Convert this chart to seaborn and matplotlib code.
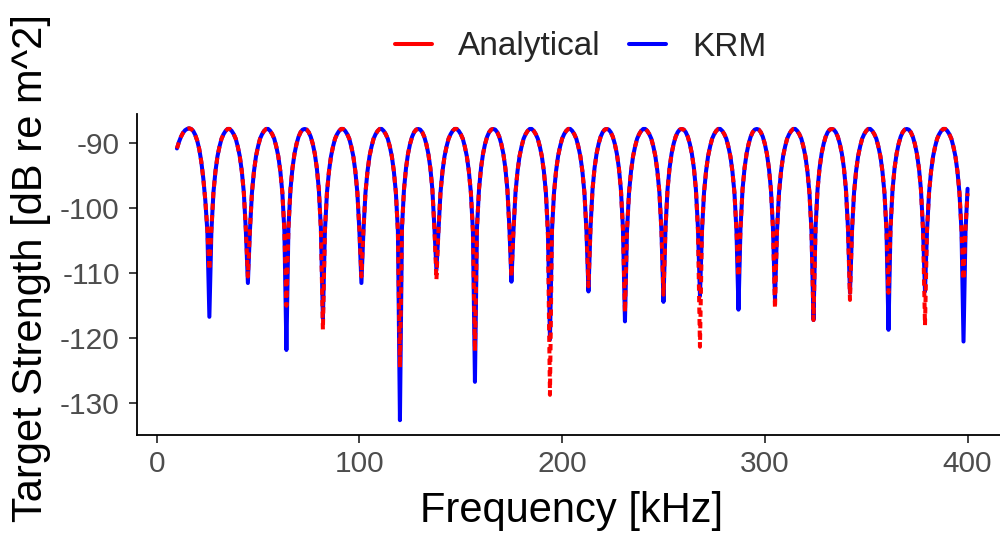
import numpy as np
import pandas as pd
import seaborn as sns
import matplotlib
matplotlib.use("Agg")
import matplotlib.pyplot as plt
from matplotlib.lines import Line2D

# Frequency grid (kHz)
freq_khz = np.arange(10, 401, 1)

# Target strength, KRM model (dB re m^2), one row per lobe ending at its null
ts_krm = [
    # 10-26
    -90.8, -89.8, -89.0, -88.4, -88.0, -87.8, -87.7, -87.8, -88.1, -88.7, -89.6, -90.9, -92.8, -95.4, -98.8, -103.5, -116.7,
    # 27-45
    -103.5, -97.6, -94.3, -92.0, -90.5, -89.3, -88.6, -88.1, -87.8, -87.8, -88.1, -88.6, -89.3, -90.5, -92.0, -94.3, -97.6, -103.5, -111.5,
    # 46-64
    -103.5, -97.6, -94.3, -92.0, -90.5, -89.3, -88.6, -88.1, -87.8, -87.8, -88.1, -88.6, -89.3, -90.5, -92.0, -94.3, -97.6, -103.5, -121.8,
    # 65-82
    -103.0, -97.1, -93.8, -91.6, -90.1, -89.0, -88.3, -87.9, -87.8, -87.9, -88.3, -89.0, -90.1, -91.6, -93.8, -97.1, -103.0, -117.0,
    # 83-101
    -103.5, -97.6, -94.3, -92.0, -90.5, -89.3, -88.6, -88.1, -87.8, -87.8, -88.1, -88.6, -89.3, -90.5, -92.0, -94.3, -97.6, -103.5, -111.5,
    # 102-120
    -103.5, -97.6, -94.3, -92.0, -90.5, -89.3, -88.6, -88.1, -87.8, -87.8, -88.1, -88.6, -89.3, -90.5, -92.0, -94.3, -97.6, -103.5, -132.6,
    # 121-138
    -103.0, -97.1, -93.8, -91.6, -90.1, -89.0, -88.3, -87.9, -87.8, -87.9, -88.3, -89.0, -90.1, -91.6, -93.8, -97.1, -103.0, -109.5,
    # 139-157
    -103.5, -97.6, -94.3, -92.0, -90.5, -89.3, -88.6, -88.1, -87.8, -87.8, -88.1, -88.6, -89.3, -90.5, -92.0, -94.3, -97.6, -103.5, -126.7,
    # 158-175
    -103.0, -97.1, -93.8, -91.6, -90.1, -89.0, -88.3, -87.9, -87.8, -87.9, -88.3, -89.0, -90.1, -91.6, -93.8, -97.1, -103.0, -111.3,
    # 176-194
    -103.5, -97.6, -94.3, -92.0, -90.5, -89.3, -88.6, -88.1, -87.8, -87.8, -88.1, -88.6, -89.3, -90.5, -92.0, -94.3, -97.6, -103.5, -120.2,
    # 195-213
    -103.5, -97.6, -94.3, -92.0, -90.5, -89.3, -88.6, -88.1, -87.8, -87.8, -88.1, -88.6, -89.3, -90.5, -92.0, -94.3, -97.6, -103.5, -112.8,
    # 214-231
    -103.0, -97.1, -93.8, -91.6, -90.1, -89.0, -88.3, -87.9, -87.8, -87.9, -88.3, -89.0, -90.1, -91.6, -93.8, -97.1, -103.0, -117.4,
    # 232-250
    -103.5, -97.6, -94.3, -92.0, -90.5, -89.3, -88.6, -88.1, -87.8, -87.8, -88.1, -88.6, -89.3, -90.5, -92.0, -94.3, -97.6, -103.5, -114.4,
    # 251-268
    -103.0, -97.1, -93.8, -91.6, -90.1, -89.0, -88.3, -87.9, -87.8, -87.9, -88.3, -89.0, -90.1, -91.6, -93.8, -97.1, -103.0, -113.5,
    # 269-287
    -103.5, -97.6, -94.3, -92.0, -90.5, -89.3, -88.6, -88.1, -87.8, -87.8, -88.1, -88.6, -89.3, -90.5, -92.0, -94.3, -97.6, -103.5, -115.6,
    # 288-305
    -103.0, -97.1, -93.8, -91.6, -90.1, -89.0, -88.3, -87.9, -87.8, -87.9, -88.3, -89.0, -90.1, -91.6, -93.8, -97.1, -103.0, -114.1,
    # 306-324
    -103.5, -97.6, -94.3, -92.0, -90.5, -89.3, -88.6, -88.1, -87.8, -87.8, -88.1, -88.6, -89.3, -90.5, -92.0, -94.3, -97.6, -103.5, -117.2,
    # 325-342
    -103.0, -97.1, -93.8, -91.6, -90.1, -89.0, -88.3, -87.9, -87.8, -87.9, -88.3, -89.0, -90.1, -91.6, -93.8, -97.1, -103.0, -113.0,
    # 343-361
    -103.5, -97.6, -94.3, -92.0, -90.5, -89.3, -88.6, -88.1, -87.8, -87.8, -88.1, -88.6, -89.3, -90.5, -92.0, -94.3, -97.6, -103.5, -118.7,
    # 362-379
    -103.0, -97.1, -93.8, -91.6, -90.1, -89.0, -88.3, -87.9, -87.8, -87.9, -88.3, -89.0, -90.1, -91.6, -93.8, -97.1, -103.0, -112.8,
    # 380-398
    -103.5, -97.6, -94.3, -92.0, -90.5, -89.3, -88.6, -88.1, -87.8, -87.8, -88.1, -88.6, -89.3, -90.5, -92.0, -94.3, -97.6, -103.5, -120.5,
    # 399-400
    -103.5, -97.0,
]

# Target strength, analytical solution (dB re m^2)
ts_analytical = [
    # 10-26
    -90.8, -89.8, -89.0, -88.4, -88.0, -87.8, -87.7, -87.8, -88.1, -88.7, -89.6, -90.9, -92.8, -95.4, -98.8, -103.3, -109.5,
    # 27-45
    -103.2, -97.6, -94.3, -92.0, -90.5, -89.3, -88.6, -88.1, -87.8, -87.8, -88.1, -88.6, -89.3, -90.5, -92.0, -94.3, -97.6, -103.3, -110.5,
    # 46-64
    -103.3, -97.6, -94.3, -92.0, -90.5, -89.3, -88.6, -88.1, -87.8, -87.8, -88.1, -88.6, -89.3, -90.5, -92.0, -94.3, -97.6, -103.4, -115.0,
    # 65-82
    -103.1, -97.1, -93.8, -91.6, -90.1, -89.0, -88.3, -87.9, -87.8, -87.9, -88.3, -89.0, -90.1, -91.6, -93.8, -97.1, -103.2, -118.7,
    # 83-101
    -103.4, -97.6, -94.3, -92.0, -90.5, -89.3, -88.6, -88.1, -87.8, -87.8, -88.1, -88.6, -89.3, -90.5, -92.0, -94.3, -97.6, -103.3, -110.5,
    # 102-120
    -103.3, -97.6, -94.3, -92.0, -90.5, -89.3, -88.6, -88.1, -87.8, -87.8, -88.1, -88.6, -89.3, -90.5, -92.0, -94.3, -97.6, -103.6, -124.5,
    # 121-138
    -103.2, -97.1, -93.8, -91.6, -90.1, -89.0, -88.3, -87.9, -87.8, -87.9, -88.3, -89.0, -90.1, -91.6, -93.8, -97.1, -103.1, -111.0,
    # 139-157
    -103.4, -97.6, -94.3, -92.0, -90.5, -89.3, -88.6, -88.1, -87.8, -87.8, -88.1, -88.6, -89.3, -90.5, -92.0, -94.3, -97.6, -103.5, -122.0,
    # 158-175
    -103.1, -97.1, -93.8, -91.6, -90.1, -89.0, -88.3, -87.9, -87.8, -87.9, -88.3, -89.0, -90.1, -91.6, -93.8, -97.1, -103.1, -110.5,
    # 176-194
    -103.3, -97.6, -94.3, -92.0, -90.5, -89.3, -88.6, -88.1, -87.8, -87.8, -88.1, -88.6, -89.3, -90.5, -92.0, -94.3, -97.6, -104.2, -128.7,
    # 195-213
    -102.9, -97.6, -94.3, -92.0, -90.5, -89.3, -88.6, -88.1, -87.8, -87.8, -88.1, -88.6, -89.3, -90.5, -92.0, -94.3, -97.6, -103.3, -112.0,
    # 214-231
    -103.1, -97.1, -93.8, -91.6, -90.1, -89.0, -88.3, -87.9, -87.8, -87.9, -88.3, -89.0, -90.1, -91.6, -93.8, -97.1, -103.2, -116.0,
    # 232-250
    -103.4, -97.6, -94.3, -92.0, -90.5, -89.3, -88.6, -88.1, -87.8, -87.8, -88.1, -88.6, -89.3, -90.5, -92.0, -94.3, -97.6, -103.4, -113.3,
    # 251-268
    -103.1, -97.1, -93.8, -91.6, -90.1, -89.0, -88.3, -87.9, -87.8, -87.9, -88.3, -89.0, -90.1, -91.6, -93.8, -97.1, -103.4, -121.3,
    # 269-287
    -103.2, -97.6, -94.3, -92.0, -90.5, -89.3, -88.6, -88.1, -87.8, -87.8, -88.1, -88.6, -89.3, -90.5, -92.0, -94.3, -97.6, -103.3, -110.5,
    # 288-305
    -103.2, -97.1, -93.8, -91.6, -90.1, -89.0, -88.3, -87.9, -87.8, -87.9, -88.3, -89.0, -90.1, -91.6, -93.8, -97.1, -103.1, -115.4,
    # 306-324
    -103.4, -97.6, -94.3, -92.0, -90.5, -89.3, -88.6, -88.1, -87.8, -87.8, -88.1, -88.6, -89.3, -90.5, -92.0, -94.3, -97.6, -103.5, -117.2,
    # 325-342
    -103.2, -97.1, -93.8, -91.6, -90.1, -89.0, -88.3, -87.9, -87.8, -87.9, -88.3, -89.0, -90.1, -91.6, -93.8, -97.1, -103.1, -114.1,
    # 343-361
    -103.3, -97.6, -94.3, -92.0, -90.5, -89.3, -88.6, -88.1, -87.8, -87.8, -88.1, -88.6, -89.3, -90.5, -92.0, -94.3, -97.6, -103.3, -113.0,
    # 362-379
    -103.2, -97.1, -93.8, -91.6, -90.1, -89.0, -88.3, -87.9, -87.8, -87.9, -88.3, -89.0, -90.1, -91.6, -93.8, -97.1, -103.3, -118.0,
    # 380-398
    -103.3, -97.6, -94.3, -92.0, -90.5, -89.3, -88.6, -88.1, -87.8, -87.8, -88.1, -88.6, -89.3, -90.5, -92.0, -94.3, -97.6, -103.2, -111.0,
    # 399-400
    -103.0, -97.7,
]

series_names = ["Analytical", "KRM"]
series_colors = {"Analytical": "#FF0000", "KRM": "#0000FF"}
x_ticks = [0, 100, 200, 300, 400]
y_ticks = [-90, -100, -110, -120, -130]

assert len(ts_krm) == len(freq_khz) and len(ts_analytical) == len(freq_khz)

df = pd.concat([
    pd.DataFrame({"freq": freq_khz, "ts": ts_krm, "model": "KRM"}),
    pd.DataFrame({"freq": freq_khz, "ts": ts_analytical, "model": "Analytical"}),
], ignore_index=True)

sns.set_theme(style="ticks")
plt.rcParams["font.family"] = ["Liberation Sans", "DejaVu Sans"]
plt.rcParams["axes.unicode_minus"] = False
plt.rcParams["lines.scale_dashes"] = False

fig = plt.figure(figsize=(10, 5.38), dpi=100)
ax = fig.add_axes([0.137, 0.1918, 0.863, 0.5969])

# solid KRM curve underneath, dashed analytical curve on top
sns.lineplot(data=df[df["model"] == "KRM"], x="freq", y="ts",
             color=series_colors["KRM"], linewidth=2.9, errorbar=None,
             legend=False, ax=ax)
sns.lineplot(data=df[df["model"] == "Analytical"], x="freq", y="ts",
             color=series_colors["Analytical"], linewidth=2.9, errorbar=None,
             legend=False, ax=ax, linestyle=(0, (4.5, 3.8)))

ax.set_xlim(-9.7, 416.0)
ax.set_ylim(-134.85, -85.45)
ax.set_xticks(x_ticks)
ax.set_yticks(y_ticks)
ax.set_xticklabels([str(v) for v in x_ticks])
ax.set_yticklabels([str(v) for v in y_ticks])
ax.set_xlabel("")
ax.set_ylabel("")

for side in ["top", "right"]:
    ax.spines[side].set_visible(False)
for side in ["left", "bottom"]:
    ax.spines[side].set_color("black")
    ax.spines[side].set_linewidth(1.3)

ax.tick_params(axis="both", length=6, width=1.3, color="#333333",
               labelcolor="#4D4D4D", labelsize=21.5)
ax.tick_params(axis="y", pad=6.5)
ax.tick_params(axis="x", pad=5)

fig.text(0.5715, 1 - 522 / 538, "Frequency [kHz]", ha="center", va="baseline",
         fontsize=30, color="black")
fig.text(0.031, 1 - 268 / 538, "Target Strength [dB re m^2]", ha="center",
         va="center", rotation=90, fontsize=30, color="black")

handles = [Line2D([], [], color=series_colors[n], linewidth=2.9) for n in series_names]
fig.legend(handles, series_names, loc="center", bbox_to_anchor=(0.581, 1 - 47 / 538),
           ncol=2, frameon=False, fontsize=24, handlelength=1.1,
           handletextpad=0.8, columnspacing=0.85)

fig.savefig("out.png", dpi=100)
